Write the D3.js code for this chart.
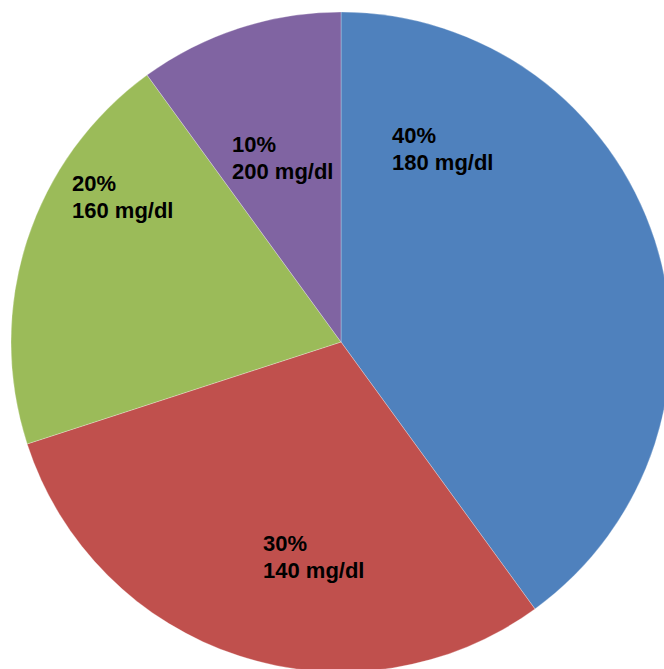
<!DOCTYPE html>
<html>
<head>
<meta charset="utf-8">
<script src="https://cdn.jsdelivr.net/npm/d3@7"></script>
<style>
  html, body { margin: 0; padding: 0; background: #fff; }
  svg { display: block; }
</style>
</head>
<body>
<div id="chart"></div>
<script>
// Data
const shares = [40, 30, 20, 10];
const levels = ['180 mg/dl', '140 mg/dl', '160 mg/dl', '200 mg/dl'];
const sliceColors = ['#4F81BD', '#C0504D', '#9BBB59', '#8064A2'];

// Label placement (top-left of each label, first baseline)
const labelSpots = [[392, 143], [263, 551], [72, 191], [232, 152]];

const width = 664, height = 669;
const cx = 341, cy = 342, radius = 330;

const svg = d3.select('#chart')
    .append('svg')
    .attr('width', width)
    .attr('height', height);

const g = svg.append('g')
    .attr('transform', `translate(${cx}, ${cy})`);

const pie = d3.pie()
    .sort(null)
    .value(d => d);

const arc = d3.arc()
    .innerRadius(0)
    .outerRadius(radius);

const arcs = pie(shares);

g.selectAll('path.slice')
    .data(arcs)
    .enter()
    .append('path')
    .attr('class', 'slice')
    .attr('d', arc)
    .attr('fill', (d, i) => sliceColors[i])
    .attr('stroke', 'rgba(255,255,255,0.35)')
    .attr('stroke-width', 0.8);

// Labels
const labels = svg.selectAll('text.label')
    .data(arcs)
    .enter()
    .append('text')
    .attr('class', 'label')
    .attr('x', (d, i) => labelSpots[i][0])
    .attr('y', (d, i) => labelSpots[i][1])
    .style('font-family', '"Liberation Sans", Arial, sans-serif')
    .style('font-size', '22px')
    .style('font-weight', 'bold')
    .style('fill', '#000');

labels.append('tspan')
    .attr('x', (d, i) => labelSpots[i][0])
    .text((d, i) => shares[i] + '%');

labels.append('tspan')
    .attr('x', (d, i) => labelSpots[i][0])
    .attr('dy', 27)
    .text((d, i) => levels[i]);
</script>
</body>
</html>
